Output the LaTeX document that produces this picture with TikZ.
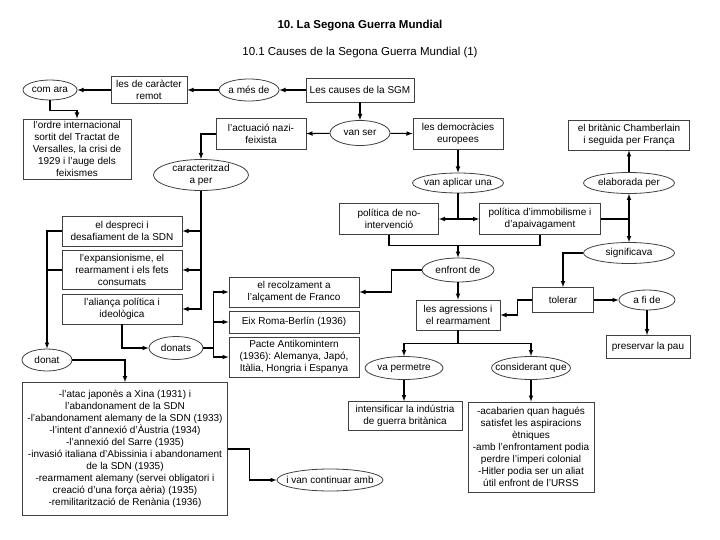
\documentclass[tikz,border=0pt]{standalone}
\usepackage{fontspec}
\setmainfont{Liberation Sans}
\usetikzlibrary{shapes}
\frenchspacing

% text of an oval, centred on the node and of no width
\newcommand{\ov}[1]{\makebox[0pt]{#1}}

\tikzset{
  box/.style={draw=black!75, line width=0.8pt, rectangle, align=center, inner sep=1pt, font=\fontsize{10}{12}\selectfont},
  oval/.style={draw=black!75, line width=0.8pt, ellipse, inner xsep=0pt, inner ysep=-2pt, font=\fontsize{10}{12}\selectfont},
  wh/.style 2 args={minimum width=#1pt, minimum height=#2pt},
  link/.style={line width=1.1pt, -latex},
  plain/.style={line width=1.1pt},
}

\begin{document}
\begin{tikzpicture}[x=1pt,y=1pt,yscale=-1,xscale=1]
\useasboundingbox (0,0) rectangle (720,540);

% Titles
\node (title) at (360,26) {\fontsize{11.5}{14}\selectfont\bfseries 10. La Segona Guerra Mundial};
\node (subtitle) at (360,53) {\fontsize{11.5}{14}\selectfont 10.1 Causes de la Segona Guerra Mundial (1)};

% Top row
\node[box, wh={108}{24}] (causes) at (360,90) {Les causes de la SGM};
\node[oval, wh={60}{22}] (ames) at (249,90) {\ov{a més de}};
\node[box, wh={76}{27}] (remot) at (149,90) {les de caràcter\\remot};
\node[oval, wh={54}{20}] (comara) at (50,90) {\ov{com ara}};
\node[box, wh={108}{60}] (ordre) at (77,149) {l'ordre internacional\\sortit del Tractat de\\Versalles, la crisi de\\1929 i l'auge dels\\feixismes};
\node[oval, wh={60}{25}] (vanser) at (360,133) {\ov{van ser}};
\node[box, wh={90}{31}] (nazi) at (261,134) {l'actuació nazi-\\feixista};
\node[box, wh={90}{31}] (democ) at (458,134) {les democràcies\\europees};

% Left branch
\node[oval, wh={95}{31}] (caract) at (201,175) {\ov{\begin{tabular}{@{}c@{}}caracteritzad\\a per\end{tabular}}};
\node[box, wh={120}{30}] (despreci) at (122,231) {el despreci i\\desafiament de la SDN};
\node[box, wh={120}{39}] (expans) at (122,270) {l'expansionisme, el\\rearmament i els fets\\consumats};
\node[box, wh={120}{30}] (alianca) at (122,309) {l'aliança política i\\ideològica};
\node[oval, wh={50}{22}] (donat) at (47,360) {\ov{donat}};
\node[box, wh={205}{133}] (atacs) at (125,449) {-l'atac japonès a Xina (1931) i\\l'abandonament de la SDN\\-l'abandonament alemany de la SDN (1933)\\-l'intent d'annexió d'Àustria (1934)\\-l'annexió del Sarre (1935)\\-invasió italiana d'Abissinia i abandonament\\de la SDN (1935)\\-rearmament alemany (servei obligatori i\\creació d'una força aèria) (1935)\\-remilitarització de Renània (1936)};
\node[oval, wh={106}{22}] (continuar) at (330,480) {\ov{i van continuar amb}};
\node[oval, wh={54}{23}] (donats) at (176,348) {\ov{donats}};
\node[box, wh={130}{30}] (franco) at (294,292) {el recolzament a\\l'alçament de Franco};
\node[box, wh={130}{22}] (eix) at (294,322) {Eix Roma-Berlín (1936)};
\node[box, wh={130}{40}] (pacte) at (294,357) {Pacte Antikomintern\\(1936): Alemanya, Japó,\\Itàlia, Hongria i Espanya};

% Right branch
\node[oval, wh={91}{20}] (aplicar) at (458,183) {\ov{van aplicar una}};
\node[box, wh={99}{31}] (nointerv) at (389,219) {política de no-\\intervenció};
\node[box, wh={121}{31}] (immob) at (540,219) {política d'immobilisme i\\d'apaivagament};
\node[oval, wh={72}{24}] (enfront) at (458,270) {\ov{enfront de}};
\node[box, wh={84}{30}] (agress) at (458,315) {les agressions i\\el rearmament};
\node[box, wh={121}{30}] (chamber) at (629,135) {el britànic Chamberlain\\i seguida per França};
\node[oval, wh={91}{21}] (elaborada) at (629,183) {\ov{elaborada per}};
\node[oval, wh={91}{21}] (signif) at (629,253) {\ov{significava}};
\node[box, wh={61}{25}] (tolerar) at (563,300) {tolerar};
\node[oval, wh={56}{20}] (afide) at (647,300) {\ov{a fi de}};
\node[box, wh={84}{23}] (pau) at (648,347) {preservar la pau};
\node[oval, wh={78}{23}] (permetre) at (404,368) {\ov{va permetre}};
\node[oval, wh={79}{23}] (consid) at (531,368) {\ov{considerant que}};
\node[box, wh={114}{29}] (intensif) at (405,416) {intensificar la indústria\\de guerra britànica};
\node[box, wh={126}{90}] (acabarien) at (531,447) {-acabarien quan hagués\\satisfet les aspiracions\\ètniques\\-amb l'enfrontament podia\\perdre l'imperi colonial\\-Hitler podia ser un aliat\\útil enfront de l'URSS};

% Connectors, top
\draw[link] (causes) -- (ames);
\draw[link] (ames) -- (remot);
\draw[link] (remot) -- (comara);
\draw[link] (comara.south) -- ++(0,10) -| (ordre.north);
\draw[link] (causes) -- (vanser);
\draw[link] (vanser) -- (nazi);
\draw[link] (vanser) -- (democ);

% Connectors, left
\draw[link] (nazi.west) -| (caract.north);
\draw[link] (caract.south) |- (alianca.east);
\draw[link] (caract.south |- despreci.east) -- (despreci.east);
\draw[link] (caract.south |- expans.east) -- (expans.east);
\draw[link] (despreci.west) -| (donat.north);
\draw[plain] (expans.west) -- (expans.west -| donat.north);
\draw[link] (donat.east) -| (atacs.north);
\draw[link] (atacs.east) -- ++(22,0) |- (continuar.west);
\draw[link] (alianca.south) |- (donats.west);
\draw[link] (donats.east) -- ++(10,0) |- (franco.west);
\draw[link] (donats.east) -- ++(10,0) |- (eix.west);
\draw[link] (donats.east) -- ++(10,0) |- (pacte.west);

% Connectors, right
\draw[link] (democ) -- (aplicar);
\draw[link] (aplicar.south) |- (nointerv.east);
\draw[link] (aplicar.south) |- (immob.west);
\draw[plain] (nointerv.south) -- ++(0,11) coordinate (nj) -| (immob.south);
\draw[link] (nj -| enfront.north) -- (enfront.north);
\draw[link] (enfront.west) -- ++(-30,0) |- (franco.east);
\draw[link] (enfront) -- (agress);
\draw[plain] (immob.east) -- (immob.east -| elaborada.south);
\draw[link] (immob.east -| elaborada.south) -- (elaborada.south);
\draw[link] (immob.east -| signif.north) -- (signif.north);
\draw[link] (elaborada) -- (chamber);
\draw[link] (signif.west) -| (tolerar.north);
\draw[link] (tolerar.west) -- ++(-15,0) |- (agress.east);
\draw[link] (tolerar) -- (afide);
\draw[link] (afide.south) -- (afide.south |- pau.north);
\draw[link] (agress.south) -- ++(0,13) -| (permetre.north);
\draw[link] (agress.south) -- ++(0,13) -| (consid.north);
\draw[link] (permetre.south) -- (permetre.south |- intensif.north);
\draw[link] (consid) -- (acabarien);

\end{tikzpicture}
\end{document}
